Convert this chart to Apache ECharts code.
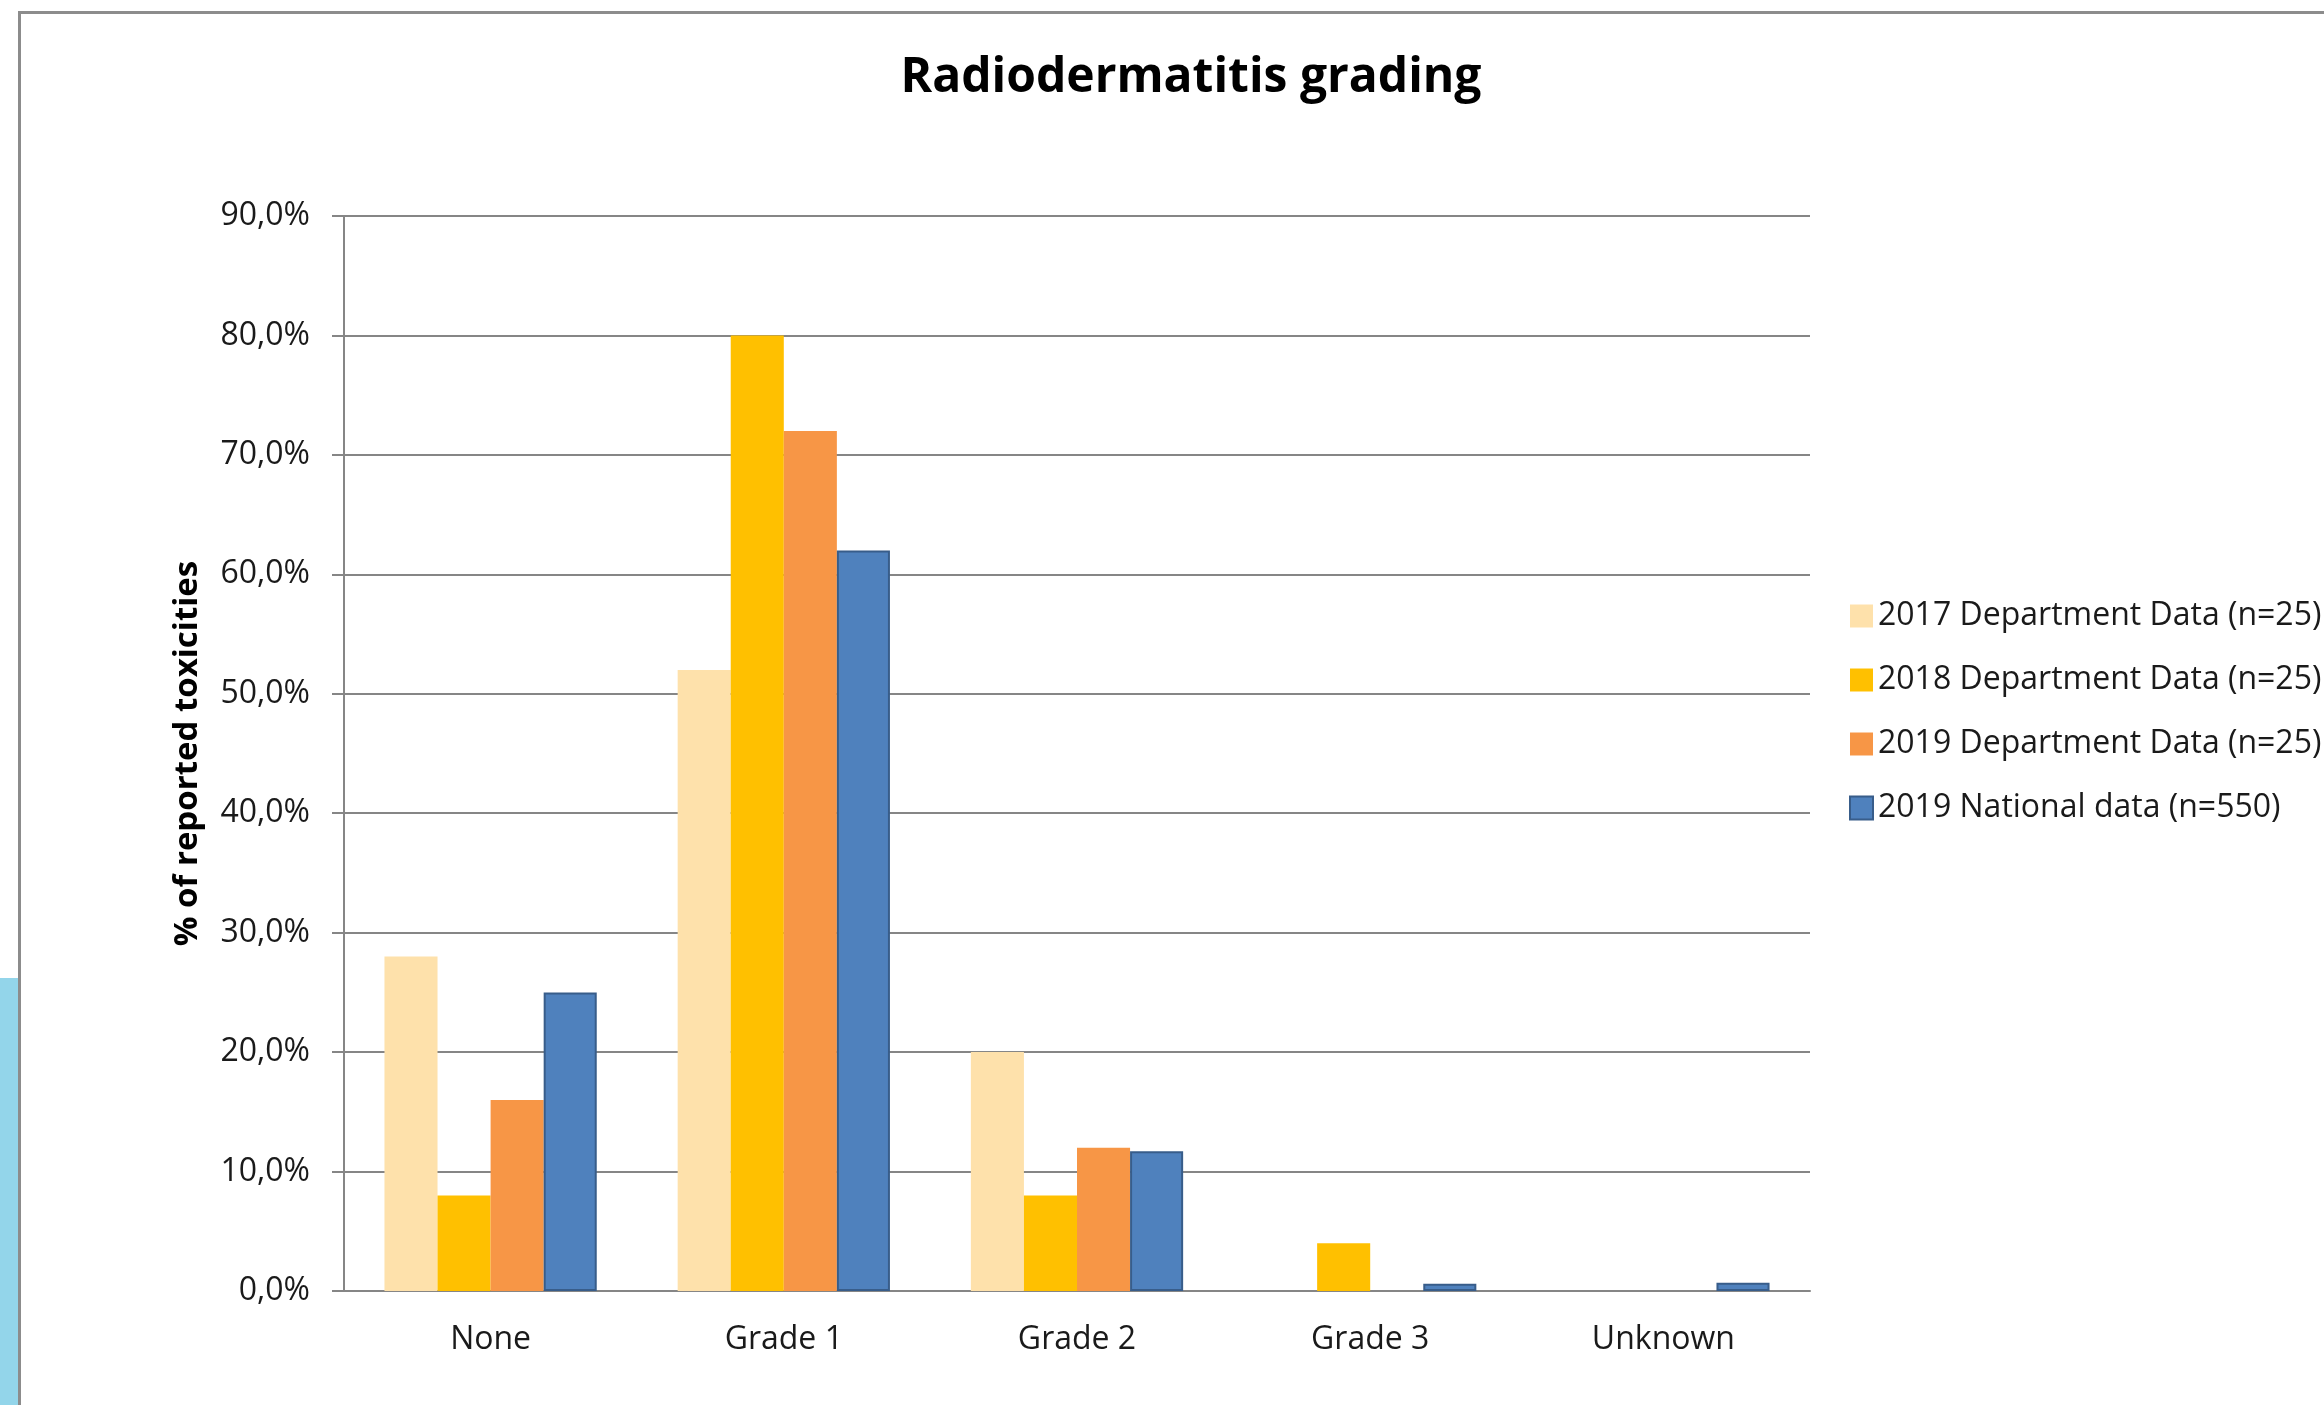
<!DOCTYPE html>
<html>
<head>
<meta charset="utf-8">
<script src="https://cdn.jsdelivr.net/npm/echarts@6/dist/echarts.min.js"></script>
<style>
  html, body { margin: 0; padding: 0; background: #fff; }
  #app { width: 2324px; height: 1405px; }
</style>
</head>
<body>
<div id="app"></div>
<script>
const categories = ["None", "Grade 1", "Grade 2", "Grade 3", "Unknown"];
const dept2017 = [28, 52, 20, 0, 0];
const dept2018 = [8, 80, 8, 4, 0];
const dept2019 = [16, 72, 12, 0, 0];
const national2019 = [25, 62, 11.7, 0.6, 0.7];
const seriesNames = [
  "2017 Department Data (n=25)",
  "2018 Department Data (n=25)",
  "2019 Department Data (n=25)",
  "2019 National data (n=550)"
];

const font = "Open Sans";
const textColor = "#1a1a1a";
const axisGrey = "#868686";

const app = document.getElementById("app");
const myChart = echarts.init(app);

const bar = (name, data, color, border) => ({
  name,
  type: "bar",
  data,
  barGap: "0%",
  barCategoryGap: "27.6%",
  itemStyle: {
    color,
    borderColor: border || color,
    borderWidth: border ? 2 : 0
  }
});

myChart.setOption({
  backgroundColor: "#fff",
  animation: false,
  title: {
    text: "Radiodermatitis grading",
    left: 1186,
    textAlign: "center",
    top: 49,
    textStyle: { fontFamily: font, fontSize: 48, fontWeight: "bold", color: "#000" }
  },
  legend: {
    orient: "vertical",
    left: 1844,
    top: 595,
    icon: "rect",
    itemWidth: 23,
    itemHeight: 23,
    itemGap: 32,
    data: seriesNames,
    textStyle: { fontFamily: font, fontSize: 32, color: textColor, lineHeight: 30 }
  },
  grid: { left: 344, top: 216, right: 514, bottom: 114 },
  xAxis: {
    type: "category",
    data: categories,
    axisLine: { lineStyle: { color: axisGrey, width: 2 } },
    axisTick: { length: 13, lineStyle: { color: axisGrey, width: 2 } },
    axisLabel: { margin: 33, fontFamily: font, fontSize: 32, color: textColor }
  },
  yAxis: {
    type: "value",
    min: 0,
    max: 90,
    interval: 10,
    name: "% of reported toxicities",
    nameLocation: "middle",
    nameGap: 140,
    nameTextStyle: { fontFamily: font, fontSize: 33, fontWeight: "bold", color: "#000" },
    axisLine: { show: true, lineStyle: { color: axisGrey, width: 2 } },
    axisTick: { show: true, length: 12, lineStyle: { color: axisGrey, width: 2 } },
    splitLine: { lineStyle: { color: axisGrey, width: 2 } },
    axisLabel: {
      margin: 34,
      fontFamily: font,
      fontSize: 32,
      color: textColor,
      formatter: (v) => v.toFixed(1).replace(".", ",") + "%"
    }
  },
  graphic: [
    // light blue strip at left edge and the frame of the slide
    { type: "rect", shape: { x: 0, y: 978, width: 19, height: 440 }, style: { fill: "#93d5ea" } },
    { type: "polyline", shape: { points: [[19.5, 1405], [19.5, 12.5], [2324, 12.5]] }, style: { stroke: "#8c8c8c", lineWidth: 3, fill: null } }
  ],
  series: [
    bar(seriesNames[0], dept2017, "#fee1ab"),
    bar(seriesNames[1], dept2018, "#ffc000"),
    bar(seriesNames[2], dept2019, "#f79646"),
    bar(seriesNames[3], national2019, "#4f81bd", "#385d8a")
  ]
});
</script>
</body>
</html>
